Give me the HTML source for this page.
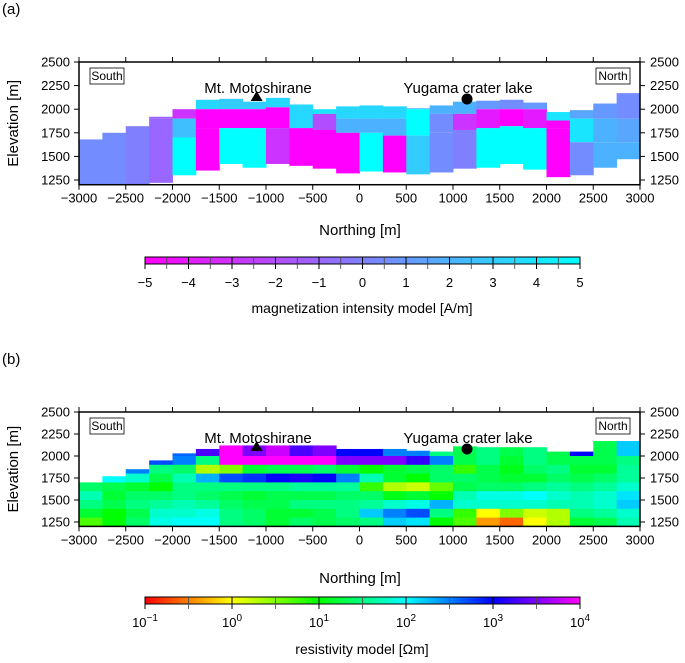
<!DOCTYPE html>
<html><head><meta charset="utf-8"><style>
body{margin:0;background:#fff}
svg{font-family:"Liberation Sans",sans-serif;display:block}
</style></head><body>
<svg id="fig" width="685" height="663" viewBox="0 0 685 663">
<defs>
<linearGradient id="gm" x1="0" x2="1" y1="0" y2="0"><stop offset="0" stop-color="#ff00ff"/><stop offset="0.5" stop-color="#8080ff"/><stop offset="1" stop-color="#00ffff"/></linearGradient>
<linearGradient id="gr" x1="0" x2="1" y1="0" y2="0">
<stop offset="0" stop-color="#ff0000"/><stop offset="0.1" stop-color="#ff8000"/><stop offset="0.2" stop-color="#ffff00"/><stop offset="0.3" stop-color="#80ff00"/><stop offset="0.4" stop-color="#00ff00"/><stop offset="0.5" stop-color="#00ff80"/><stop offset="0.6" stop-color="#00ffff"/><stop offset="0.7" stop-color="#0080ff"/><stop offset="0.8" stop-color="#0000ff"/><stop offset="0.9" stop-color="#8000ff"/><stop offset="1" stop-color="#ff00ff"/></linearGradient>
<clipPath id="c1"><rect x="79" y="62" width="561" height="123"/></clipPath>
<clipPath id="c2"><rect x="79" y="412" width="561" height="115"/></clipPath>
</defs>
<g id="g1" clip-path="url(#c1)"></g>
<g id="g2" clip-path="url(#c2)"></g>
<g id="axes"></g>
</svg>
<script>
// ---------- data ----------
const colStarts=[-3000,-2750,-2500,-2250,-2000,-1750,-1500,-1250,-1000,-750,-500,-250,0,250,500,750,1000,1250,1500,1750,2000,2250,2500,2750];
// panel a
const magTop=[1680,1750,1820,1920,2000,2100,2110,2080,2120,2050,2000,2030,2040,2030,2010,2040,2080,2090,2100,2070,1970,1990,2060,2170];
const magBot=[1200,1200,1200,1220,1300,1350,1420,1380,1420,1400,1370,1320,1340,1330,1310,1330,1370,1380,1420,1360,1280,1300,1380,1470];
const magB1=[1900,1900,1900,1900,1900,2000,2000,2000,2020,1800,1950,1900,1900,1900,2000,1950,1950,2000,2000,2000,1880,1900,1900,1900];
const magB2=[1700,1700,1700,1700,1700,1800,1800,1800,1800,1800,1780,1750,1750,1720,1720,1750,1780,1800,1820,1800,1800,1650,1650,1650];
const magV1=[0.5,0.5,0.5,-1,-3,3.5,3,3,3.5,3.5,4,3.5,3.5,3.5,2,2,2,1,0.5,1,4,1.5,1,0.5];
const magV2=[0.5,0.5,0,-1,2.5,-5,-5,-5,-5,3.5,-2,2,2,2,5,0.5,-3,-4,-5,-4,-5,4,2,1.5];
const magV3=[0.5,0.5,0,-1,5,-5,5,5,-3,-5,-5,-5,5,-5,3,0.5,0,5,5,5,-5,0.5,2,2];
// panel b
const resTop=[1700,1770,1850,1950,2030,2080,2120,2120,2120,2120,2120,2080,2080,2080,2060,2050,2110,2100,2100,2100,2050,2050,2170,2170];
const resBands=[2100,2000,1900,1800,1700,1600,1500,1400,1300,1200];
const resVals=[
[1.4,1.4,1.4,1.4,1.4,1.7,1.5,1.2,0.7],
[2,2,2,2,1.3,1.2,1.3,1,1],
[2.5,2.5,2.5,1.8,1.2,1.4,1.5,1.3,1.4],
[2.7,2.7,1.5,1.3,1,1.4,1.6,1.8,1.9],
[2.6,2.5,1.4,1.7,1.5,1.5,1.7,1.8,2],
[3.3,1.5,0.3,2.3,1.5,1.4,1.6,1.9,2],
[4,4,0.5,2.7,1.5,1.3,1.4,1.5,1.5],
[3.5,4,1.2,2.8,1.5,1.2,1.3,1.4,1.4],
[3.8,4,1.3,3,1.5,1.3,1.3,1.2,1.2],
[3.3,4,1.3,3.1,1.6,1.3,1.5,1.2,1.4],
[3.5,4,1.4,3,1.6,1.3,1.5,1.3,1.3],
[3,3.5,1.2,2.5,1.6,1.4,1.5,1.5,1.4],
[3,3.5,1,1.7,0.8,1.4,1.6,2.2,1.5],
[2.5,3.5,1.2,1.2,0.3,1.1,1.8,2.5,2.2],
[2.5,3.2,1.3,1,0.2,1.2,1.9,2.7,2.1],
[1.5,2.5,1.4,1.4,0.6,1,2.3,1.5,1],
[1.3,1.3,0.8,1.4,1.3,1.7,1.8,0.8,0.7],
[1.5,1.5,1.3,1.3,1.4,1.9,1.8,0,-0.4],
[1.3,1.2,1.1,1.2,1.4,1.9,1.8,0.5,-0.6],
[1.5,1.5,1.4,1.2,1.5,2,1.8,0.2,0],
[1.3,1.3,1.5,1.4,1.6,1.8,1.7,0.3,0.3],
[3,1.3,1.2,1.3,1.5,1.7,1.7,1.5,1.2],
[1.3,1.3,1.2,1.4,1.6,1.8,1.8,1.6,1.3],
[2.2,1.5,1.6,1.6,1.8,2.1,2.2,1.8,1.7]];
const xTicks=[-3000,-2500,-2000,-1500,-1000,-500,0,500,1000,1500,2000,2500,3000];
const yTicks=[1250,1500,1750,2000,2250,2500];
const magTicks=[-5,-4,-3,-2,-1,0,1,2,3,4,5];
const resTicks=[-1,0,1,2,3,4];
// ---------- scales ----------
const NS='http://www.w3.org/2000/svg';
const X=v=>79+(v+3000)/6000*561;
const YA=e=>62+(2500-e)*118/1250;
const YB=e=>412+(2500-e)*110/1250;
function mk(tag,at,parent){const el=document.createElementNS(NS,tag);for(const k in at)el.setAttribute(k,at[k]);parent.appendChild(el);return el;}
function magColor(v){const t=(v+5)/10;let r,g,b;if(t<0.5){const u=t/0.5;r=255-127*u;g=128*u;b=255;}else{const u=(t-0.5)/0.5;r=128-128*u;g=128+127*u;b=255;}return `rgb(${r|0},${g|0},${b|0})`;}
const rs=[[255,0,0],[255,128,0],[255,255,0],[128,255,0],[0,255,0],[0,255,128],[0,255,255],[0,128,255],[0,0,255],[128,0,255],[255,0,255]];
function resColor(l){let t=(l+1)/5*10;t=Math.max(0,Math.min(10,t));const i=Math.min(9,Math.floor(t)),u=t-i;const c=rs[i].map((a,k)=>a+(rs[i+1][k]-a)*u);return `rgb(${c[0]|0},${c[1]|0},${c[2]|0})`;}
const g1=document.getElementById('g1'),g2=document.getElementById('g2'),ax=document.getElementById('axes');
// panel a cells
colStarts.forEach((c,i)=>{
 const x0=X(c),x1=X(c+250);
 const segs=[[magTop[i],magB1[i],magV1[i]],[magB1[i],magB2[i],magV2[i]],[magB2[i],magBot[i],magV3[i]]];
 segs.forEach(s=>{const t=Math.min(s[0],magTop[i]),b=Math.max(s[1],magBot[i]);if(t<=b)return;
  const r=mk('rect',{x:x0,y:YA(t),width:x1-x0+0.5,height:YA(b)-YA(t),fill:magColor(s[2])},g1);
  
  });
});
// panel b cells
colStarts.forEach((c,i)=>{
 const x0=X(c),x1=X(c+250);
 for(let j=0;j<9;j++){let t=j===0?resTop[i]:resBands[j];const b=resBands[j+1];t=Math.min(t,resTop[i]);if(t<=b)continue;
  const r=mk('rect',{x:x0,y:YB(t),width:x1-x0+0.5,height:YB(b)-YB(t)+0.5,fill:resColor(resVals[i][j])},g2);
  
  }
});
// axes
function panel(Y,top,label,xlabY){
 const bot=Y(1200);
 const f=mk('rect',{x:79,y:top,width:561,height:bot-top,fill:'none',stroke:'#000','stroke-width':1.5},ax);
 
 xTicks.forEach(v=>{mk('line',{x1:X(v),x2:X(v),y1:top,y2:top-5,stroke:'#000'},ax);mk('line',{x1:X(v),x2:X(v),y1:bot,y2:bot+5,stroke:'#000'},ax);
  const t=mk('text',{x:X(v),y:bot+18,'text-anchor':'middle','font-size':13},ax);t.textContent=(v<0?'\u2212'+(-v):v);
  });
 yTicks.forEach(v=>{const y=Y(v);mk('line',{x1:79,x2:74,y1:y,y2:y,stroke:'#000'},ax);mk('line',{x1:640,x2:645,y1:y,y2:y,stroke:'#000'},ax);
  const t=mk('text',{x:70,y:y+4.5,'text-anchor':'end','font-size':13},ax);t.textContent=v;
  
  const t2=mk('text',{x:650,y:y+4.5,'font-size':13},ax);t2.textContent=v;
  });
 const xl=mk('text',{x:360,y:xlabY,'text-anchor':'middle','font-size':15},ax);xl.textContent='Northing [m]';
 
 const yc=(top+bot)/2;
 const yl=mk('text',{x:18,y:yc,'text-anchor':'middle','font-size':15,transform:`rotate(-90 18 ${yc})`},ax);yl.textContent='Elevation [m]';
 
 const pl=mk('text',{x:2,y:top-48,'font-size':15},ax);pl.textContent=label;
 
 [['South',90],['North',596]].forEach(([s,x])=>{mk('rect',{x:x,y:top+6,width:34,height:16,fill:'#fff',stroke:'#000','stroke-width':0.8},ax);
  const t=mk('text',{x:x+17,y:top+18,'text-anchor':'middle','font-size':12},ax);t.textContent=s;
  });
 const m=mk('text',{x:258,y:top+31,'text-anchor':'middle','font-size':15},ax);m.textContent='Mt. Motoshirane';
 
 const yg=mk('text',{x:468,y:top+31,'text-anchor':'middle','font-size':15},ax);yg.textContent='Yugama crater lake';
 
 const tx=X(-1100);
 const tri=mk('polygon',{points:`${tx-6},${top+39} ${tx+6},${top+39} ${tx},${top+29}`,fill:'#000'},ax);
 
 const ci=mk('circle',{cx:X(1150),cy:top+37,r:5.5,fill:'#000'},ax);
 
}
panel(YA,62,'(a)',235);
panel(YB,412,'(b)',583);
// colorbars
function cbar(y,grad,ticks,fmt,title,ty){
 const r=mk('rect',{x:145,y:y,width:435,height:7,fill:`url(#${grad})`,stroke:'#000','stroke-width':1},ax);
 
 const n=ticks.length-1;
 ticks.forEach((v,i)=>{const x=145+435*i/n;mk('line',{x1:x,x2:x,y1:y,y2:y+12,stroke:'#000'},ax);
  if(i<n){const hx=x+435/n/2;mk('line',{x1:hx,x2:hx,y1:y,y2:y+12,stroke:'#444','stroke-width':0.8},ax);}
  const t=mk('text',{x:x,y:y+30,'text-anchor':'middle','font-size':13},ax);fmt(t,v);
  });
 const tt=mk('text',{x:362,y:ty,'text-anchor':'middle','font-size':14},ax);tt.textContent=title;
 
}
cbar(257,'gm',magTicks,(t,v)=>t.textContent=(v<0?'\u2212'+(-v):v),'magnetization intensity model [A/m]',313);
cbar(597,'gr',resTicks,(t,v)=>{t.textContent='10';const s=document.createElementNS(NS,'tspan');s.setAttribute('dy','-6');s.setAttribute('font-size','10');s.textContent=(v<0?'\u2212'+(-v):v);t.appendChild(s);},'resistivity model [\u03A9m]',654);
</script>
</body></html>
